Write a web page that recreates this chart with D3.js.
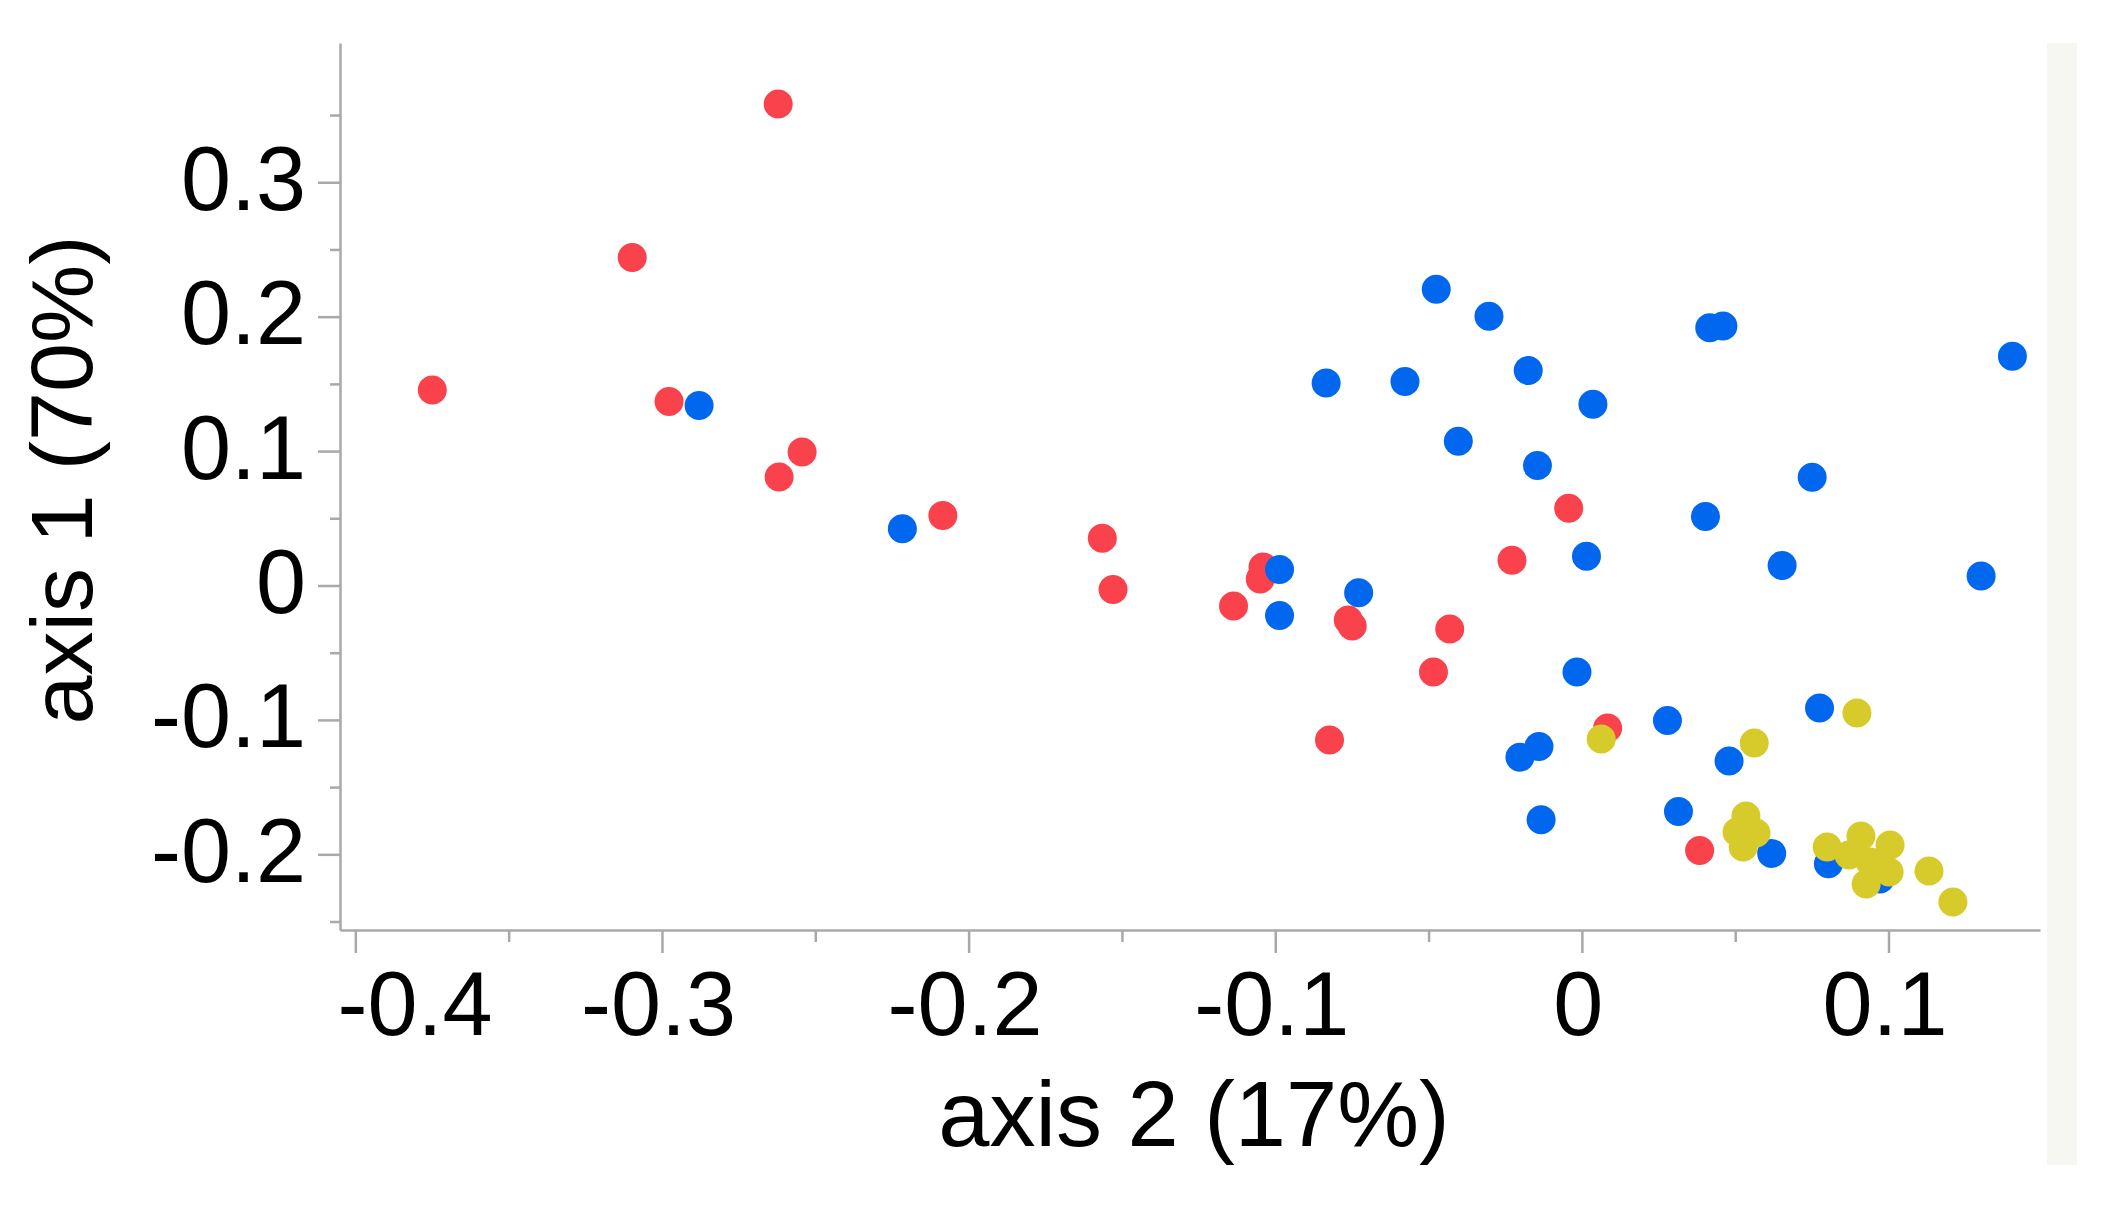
<!DOCTYPE html>
<html>
<head>
<meta charset="utf-8">
<script src="https://cdn.jsdelivr.net/npm/d3@7"></script>
<style>
  html, body { margin: 0; padding: 0; background: #ffffff; }
  svg { display: block; }
  text { font-family: "Liberation Sans", Arial, Helvetica, sans-serif; fill: #000; }
</style>
</head>
<body>
<svg id="chart" width="2120" height="1205"></svg>
<script>
// ---- data ----
const redX = [-0.2621, -0.3097, -0.3749, -0.2977, -0.2543, -0.2618, -0.2084, -0.1564, -0.1529, -0.1040, -0.1049, -0.1136, -0.0762, -0.0749, -0.0431, -0.0484, -0.0823, -0.0228, -0.0043, 0.0084, 0.0384];
const redY = [0.3582, 0.2440, 0.1454, 0.1368, 0.0993, 0.0807, 0.0521, 0.0352, -0.0029, 0.0138, 0.0048, -0.0153, -0.0257, -0.0301, -0.0324, -0.0644, -0.1149, 0.0187, 0.0574, -0.1060, -0.1971];

const blueX = [-0.2879, -0.2216, -0.0986, -0.0986, -0.0728, -0.0475, -0.0303, -0.0834, -0.0577, -0.0175, 0.0036, -0.0403, -0.0145, 0.0417, 0.0460, 0.1404, 0.0751, 0.0403, 0.0015, 0.0653, 0.1302, -0.0016, 0.0279, 0.0775, 0.0480, -0.0202, -0.0140, -0.0133, 0.0315, 0.0619, 0.0804, 0.0972];
const blueY = [0.1340, 0.0423, 0.0119, -0.0223, -0.0054, 0.2204, 0.2003, 0.1506, 0.1517, 0.1599, 0.1348, 0.1074, 0.0892, 0.1918, 0.1931, 0.1706, 0.0805, 0.0513, 0.0217, 0.0149, 0.0071, -0.0644, -0.1004, -0.0911, -0.1306, -0.1277, -0.1198, -0.1742, -0.1681, -0.1993, -0.2070, -0.2183];

const yellowX = [0.0063, 0.0562, 0.0897, 0.0535, 0.0506, 0.0568, 0.0526, 0.0800, 0.0910, 0.1005, 0.0871, 0.0940, 0.1002, 0.0927, 0.1132, 0.1210];
const yellowY = [-0.1142, -0.1172, -0.0949, -0.1715, -0.1834, -0.1841, -0.1945, -0.1945, -0.1864, -0.1931, -0.2005, -0.2057, -0.2131, -0.2221, -0.2124, -0.2355];

const xTickValues = [-0.4, -0.3, -0.2, -0.1, 0, 0.1];
const xTickLabels = ["-0.4", "-0.3", "-0.2", "-0.1", "0", "0.1"];
const xMinorValues = [-0.35, -0.25, -0.15, -0.05, 0.05];
const yTickValues = [-0.2, -0.1, 0, 0.1, 0.2, 0.3];
const yTickLabels = ["-0.2", "-0.1", "0", "0.1", "0.2", "0.3"];
const yMinorValues = [-0.25, -0.15, -0.05, 0.05, 0.15, 0.25, 0.35];

const xTitle = "axis 2 (17%)";
const yTitle = "axis 1 (70%)";

const seriesColors = { red: "#f9424b", blue: "#0067ee", yellow: "#d7cb2c" };

// ---- layout ----
const svg = d3.select("#chart");
const plotLeft = 340, plotRight = 2040, plotTop = 43, plotBottom = 930;
const axisColor = "#a9a9a9";

const x = d3.scaleLinear().domain([-0.405, 0.1494]).range([plotLeft, plotRight]);
const y = d3.scaleLinear().domain([-0.2563, 0.4036]).range([plotBottom, plotTop]);

// light strip at the right edge of the picture
svg.append("rect")
  .attr("x", 2047).attr("y", 43).attr("width", 30).attr("height", 1122)
  .attr("fill", "#f6f6f2");

// ---- axes ----
const fontSize = 90;

// minor ticks
svg.append("g")
  .attr("transform", `translate(0,${plotBottom})`)
  .call(d3.axisBottom(x).tickValues(xMinorValues).tickSize(12).tickSizeOuter(0).tickFormat(""))
  .call(g => g.select(".domain").remove())
  .call(g => g.selectAll("line").attr("stroke", axisColor).attr("stroke-width", 2.5));

svg.append("g")
  .attr("transform", `translate(${plotLeft},0)`)
  .call(d3.axisLeft(y).tickValues(yMinorValues).tickSize(10).tickSizeOuter(0).tickFormat(""))
  .call(g => g.select(".domain").remove())
  .call(g => g.selectAll("line").attr("stroke", axisColor).attr("stroke-width", 2.5));

// major x axis
const xAxisG = svg.append("g")
  .attr("transform", `translate(0,${plotBottom})`)
  .call(d3.axisBottom(x).tickValues(xTickValues).tickSize(23).tickSizeOuter(0).tickPadding(18)
    .tickFormat((d, i) => xTickLabels[i]));
xAxisG.select(".domain").attr("stroke", axisColor).attr("stroke-width", 2.5);
xAxisG.selectAll("line").attr("stroke", axisColor).attr("stroke-width", 2.5);
xAxisG.selectAll("text")
  .attr("font-size", fontSize)
  .attr("font-family", "'Liberation Sans', Arial, sans-serif")
  .attr("fill", "#000")
  .attr("dx", -4);
// first label is pushed right so it starts at the axis origin
xAxisG.selectAll(".tick text").filter((d, i) => i === 0)
  .attr("text-anchor", "start")
  .attr("x", plotLeft - x(xTickValues[0]) - 3)
  .attr("dx", 0);

// major y axis
const yAxisG = svg.append("g")
  .attr("transform", `translate(${plotLeft},0)`)
  .call(d3.axisLeft(y).tickValues(yTickValues).tickSize(22).tickSizeOuter(0).tickPadding(12)
    .tickFormat((d, i) => yTickLabels[i]));
yAxisG.select(".domain").attr("stroke", axisColor).attr("stroke-width", 2.5);
yAxisG.selectAll("line").attr("stroke", axisColor).attr("stroke-width", 2.5);
yAxisG.selectAll("text")
  .attr("font-size", fontSize)
  .attr("font-family", "'Liberation Sans', Arial, sans-serif")
  .attr("fill", "#000")
  .attr("dy", "0.30em");

// ---- titles ----
svg.append("text")
  .attr("x", 1194).attr("y", 1146)
  .attr("text-anchor", "middle")
  .attr("font-size", 92)
  .text(xTitle);

svg.append("text")
  .attr("transform", `translate(92,480) rotate(-90)`)
  .attr("text-anchor", "middle")
  .attr("font-size", 88)
  .text(yTitle);

// ---- points ----
const r = 14.5;
function drawSeries(xs, ys, color, cls) {
  svg.append("g").attr("class", cls)
    .selectAll("circle")
    .data(xs.map((v, i) => [v, ys[i]]))
    .join("circle")
    .attr("cx", d => x(d[0]))
    .attr("cy", d => y(d[1]))
    .attr("r", r)
    .attr("fill", color);
}
drawSeries(redX, redY, seriesColors.red, "red");
drawSeries(blueX, blueY, seriesColors.blue, "blue");
drawSeries(yellowX, yellowY, seriesColors.yellow, "yellow");
</script>
</body>
</html>
